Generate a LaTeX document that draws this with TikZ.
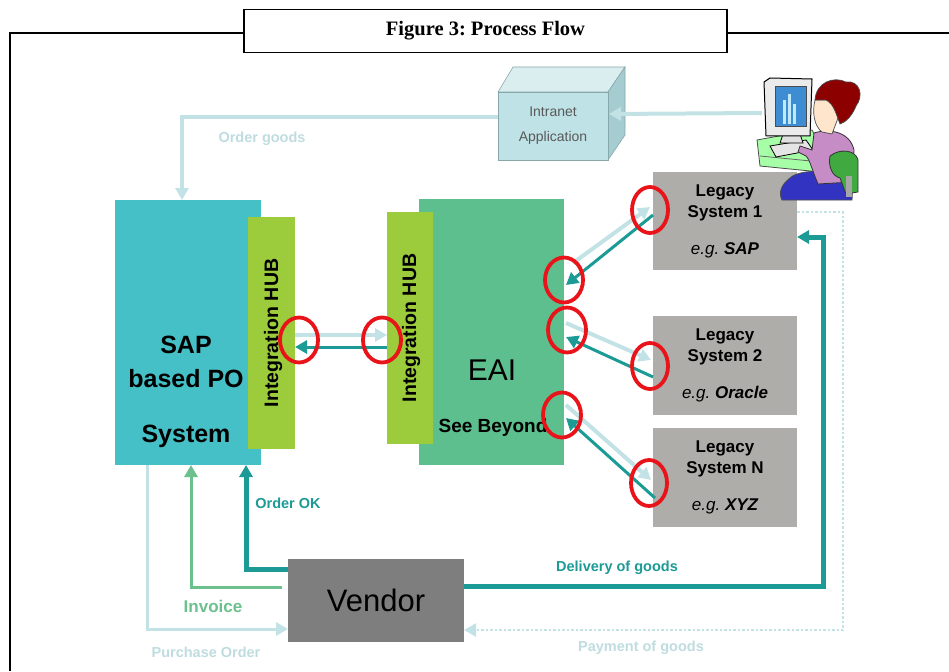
\documentclass[tikz,border=0pt]{standalone}
\usepackage{fontspec}
\setmainfont{Liberation Serif}
\newfontfamily\arial{Liberation Sans}
\usetikzlibrary{arrows.meta,shapes.geometric}
\frenchspacing

\definecolor{sapcol}{HTML}{45C0C6}
\definecolor{hubcol}{HTML}{9CCB3B}
\definecolor{eaicol}{HTML}{5DBF8D}
\definecolor{legcol}{HTML}{AEADAA}
\definecolor{vencol}{HTML}{7E7E7E}
\definecolor{tealc}{HTML}{1C9A96}
\definecolor{litec}{HTML}{C3E2E6}
\definecolor{litetext}{HTML}{BFDCE0}
\definecolor{invc}{HTML}{6CC08E}
\definecolor{ringc}{HTML}{E8141A}
\definecolor{cubefront}{HTML}{BFE2E6}
\definecolor{cubetop}{HTML}{DAEEF0}
\definecolor{cubeside}{HTML}{A5CDD1}
\definecolor{cubeline}{HTML}{86A8AB}

\newcommand{\fsz}[2]{\fontsize{#1}{#2}\selectfont}

\tikzset{
  block/.style={inner sep=0pt, outer sep=0pt, draw=none},
  ring/.style={ellipse, draw=ringc, line width=3.8pt, minimum width=38pt, minimum height=45pt, inner sep=0pt},
  litearrow/.style={draw=litec, line width=4pt, -{Triangle[length=12pt,width=13pt]}},
  tealarrow/.style={draw=tealc, line width=3pt, -{Triangle[length=12pt,width=13pt]}},
  boldlabel/.style={font=\arial\bfseries\fsz{14.5}{17}, inner sep=0pt},
}

\begin{document}
\begin{tikzpicture}[x=1pt,y=-1pt,font=\arial]
\useasboundingbox (0,0) rectangle (949,671);

% outer frame and caption box
\draw[line width=1.6pt] (10,671) -- (10,33) -- (244,33);
\draw[line width=1.6pt] (727,33) -- (949,33);
\node[draw, line width=1.6pt, fill=white, minimum width=483pt, minimum height=43pt, inner sep=0pt,
      font=\rmfamily\bfseries\fsz{20.5}{24}] (title) at (485.5,31) {Figure 3: Process Flow};

% main blocks
\node[block, fill=sapcol, minimum width=146pt, minimum height=265pt] (sap) at (188,332.5) {};
\node[block, align=center, font=\arial\bfseries\fsz{25}{34}] (saptext) at (186,392) {SAP\\based PO\\[21pt]System};
\node[block, fill=hubcol, minimum width=47pt, minimum height=232pt] (hubL) at (271.5,333) {};
\node[block, rotate=90, font=\arial\bfseries\fsz{19.5}{22}] (hubLtext) at (273,333) {Integration HUB};

\node[block, fill=eaicol, minimum width=145pt, minimum height=266pt] (eai) at (491.5,332) {};
\node[block, fill=hubcol, minimum width=46pt, minimum height=232pt] (hubR) at (410,328) {};
\node[block, rotate=90, font=\arial\bfseries\fsz{19.5}{22}] (hubRtext) at (411,328) {Integration HUB};
\node[block, font=\arial\fsz{30}{34}] (eaitext) at (492,370) {EAI};
\node[block, font=\arial\bfseries\fsz{19}{22}] (seebeyond) at (493,428) {See Beyond};

\node[block, fill=legcol, minimum width=144pt, minimum height=98pt, align=center, font=\arial\bfseries\fsz{17}{21}]
  (leg1) at (725,221) {Legacy\\System 1\\[16pt]{\mdseries\itshape e.g.} \itshape SAP};
\node[block, fill=legcol, minimum width=144pt, minimum height=99pt, align=center, font=\arial\bfseries\fsz{17}{21}]
  (leg2) at (725,365.5) {Legacy\\System 2\\[16pt]{\mdseries\itshape e.g.} \itshape Oracle};
\node[block, fill=legcol, minimum width=144pt, minimum height=99pt, align=center, font=\arial\bfseries\fsz{17}{21}]
  (legN) at (725,477.5) {Legacy\\System N\\[16pt]{\mdseries\itshape e.g.} \itshape XYZ};

\node[block, fill=vencol, minimum width=176pt, minimum height=83pt, font=\arial\fsz{31}{34}] (vendor) at (376,600.5) {Vendor};

% intranet application cube
\fill[cubetop, draw=cubeline, line width=0.6pt] (498,92) -- (513,67) -- (625,67) -- (608,92) -- cycle;
\fill[cubeside, draw=cubeline, line width=0.6pt] (608,92) -- (625,67) -- (625,135) -- (608,160) -- cycle;
\node[block, fill=cubefront, draw=cubeline, line width=0.6pt, minimum width=110pt, minimum height=68pt,
      align=center, text=black!65, font=\arial\fsz{14}{25}] (cube) at (553,126) {Intranet\\Application};

% person at the workstation
\coordinate (personW) at (762,113);
\fill[green!35!white, draw=black!70, line width=0.8pt] (757,140) -- (812,130) -- (823,150) -- (820,172) -- (760,166) -- cycle;
\draw[black!60, line width=0.8pt] (760,156) -- (821,162);
\fill[black!10, draw=black, line width=0.8pt] (770,146) -- (806,140) -- (813,150) -- (776,157) -- cycle;
\fill[black!12, draw=black, line width=0.8pt] (783,134) -- (800,134) -- (803,143) -- (780,143) -- cycle;
\fill[black!8, draw=black, line width=1pt] (764,82) -- (770,78) -- (812,79) -- (810,136) -- (766,136) -- cycle;
\fill[cyan!60!blue!80!white, draw=black!70, line width=0.6pt] (775,86) rectangle (806,126);
\fill[cyan!25!white] (783,100) rectangle (786,124);
\fill[cyan!25!white] (788,94) rectangle (791,124);
\fill[cyan!25!white] (793,104) rectangle (796,124);
\fill[blue!70!black!80!white, draw=black!70, line width=0.8pt] (790,178) .. controls (800,168) and (840,170) .. (853,178) -- (852,200) -- (782,200) .. controls (778,192) and (782,184) .. (790,178) -- cycle;
\fill[violet!45!white, draw=black!80, line width=0.8pt] (814,133) .. controls (830,128) and (850,132) .. (854,150) -- (852,182) -- (818,184) .. controls (812,170) and (810,160) .. (806,156) -- (798,152) -- (800,146) -- (812,150) -- cycle;
\fill[green!55!black!75!white, draw=black!80, line width=0.8pt] (830,156) .. controls (840,148) and (856,150) .. (858,160) -- (858,192) -- (846,194) -- (840,178) .. controls (832,176) and (828,166) .. (830,156) -- cycle;
\fill[black!35] (846,176) rectangle (852,197);
\fill[orange!20!white, draw=black!70, line width=0.7pt] (815,100) .. controls (812,112) and (814,126) .. (822,132) -- (832,134) -- (838,118) -- (836,100) -- cycle;
\fill[red!55!black, draw=black!70, line width=0.7pt] (815,100) .. controls (816,82) and (834,76) .. (846,82) .. controls (860,80) and (864,96) .. (856,106) .. controls (852,116) and (846,122) .. (840,124) .. controls (836,114) and (834,104) .. (826,100) -- cycle;

% flows from the user and intranet
\draw[litearrow] (personW) -- ([xshift=1pt,yshift=12pt]cube.east);
\draw[litearrow] ([yshift=9pt]cube.west) -| ([xshift=-6pt]sap.north);
\node[boldlabel, text=litetext] (lblOrderGoods) at (262,139) {Order goods};

% hub to hub exchange
\coordinate (rowA) at (0,335);
\coordinate (rowB) at (0,347);
\draw[litearrow] (hubL.east |- rowA) -- (hubR.west |- rowA);
\draw[tealarrow] (hubR.west |- rowB) -- (hubL.east |- rowB);

% EAI to legacy systems
\draw[litearrow] ([xshift=9pt,yshift=69pt]eai.east) -- ([xshift=-3pt,yshift=14pt]leg1.west);
\draw[tealarrow] ([yshift=6pt]leg1.west) -- ([xshift=2pt,yshift=47pt]eai.east);
\draw[litearrow] ([xshift=2pt,yshift=9pt]eai.east) -- ([xshift=-2pt,yshift=5.5pt]leg2.west);
\draw[tealarrow] ([yshift=-11.5pt]leg2.west) -- ([xshift=2pt,yshift=-5pt]eai.east);
\draw[litearrow] ([xshift=2pt,yshift=-73pt]eai.east) -- ([xshift=-2pt,yshift=-2.5pt]legN.west);
\draw[tealarrow] ([xshift=2pt,yshift=-20.5pt]legN.west) -- ([xshift=2pt,yshift=-86pt]eai.east);

% vendor flows
\draw[tealarrow, line width=5pt] ([yshift=31.5pt]vendor.west) -| ([xshift=58pt]sap.south);
\node[boldlabel, text=tealc] (lblOrderOK) at (288,503) {Order OK};
\draw[tealarrow, draw=invc, line width=3pt] ([xshift=-6pt,yshift=13.5pt]vendor.west) -| ([xshift=3pt]sap.south);
\node[boldlabel, text=invc, font=\arial\bfseries\fsz{17}{20}] (lblInvoice) at (213,606) {Invoice};
\draw[litearrow, line width=3pt] ([xshift=-41pt]sap.south) |- ([yshift=-28.5pt]vendor.west);
\node[boldlabel, text=litetext] (lblPO) at (206,652) {Purchase Order};
\draw[tealarrow, line width=5pt] ([yshift=14.5pt]vendor.east) -| ([xshift=26pt,yshift=-16pt]leg1.east) -- ([yshift=-16pt]leg1.east);
\node[boldlabel, text=tealc] (lblDelivery) at (617,568) {Delivery of goods};
\draw[litearrow, line width=2.5pt, dotted] ([yshift=9pt]leg1.east) -- ++(46,0) |- ([yshift=-29.5pt]vendor.east);
\node[boldlabel, text=litetext] (lblPayment) at (641,648) {Payment of goods};

% interface markers
\node[ring] (ringHubL) at (299,340) {};
\node[ring] (ringHubR) at (382,340) {};
\node[ring] (ringE1) at (564,280) {};
\node[ring] (ringE2) at (567,330) {};
\node[ring] (ringE3) at (562,415) {};
\node[ring, minimum width=36pt, minimum height=46pt] (ringL1) at (650,210) {};
\node[ring, minimum width=36pt, minimum height=46pt] (ringL2) at (650,366) {};
\node[ring, minimum width=36pt, minimum height=46pt] (ringL3) at (649,483) {};
\end{tikzpicture}
\end{document}
